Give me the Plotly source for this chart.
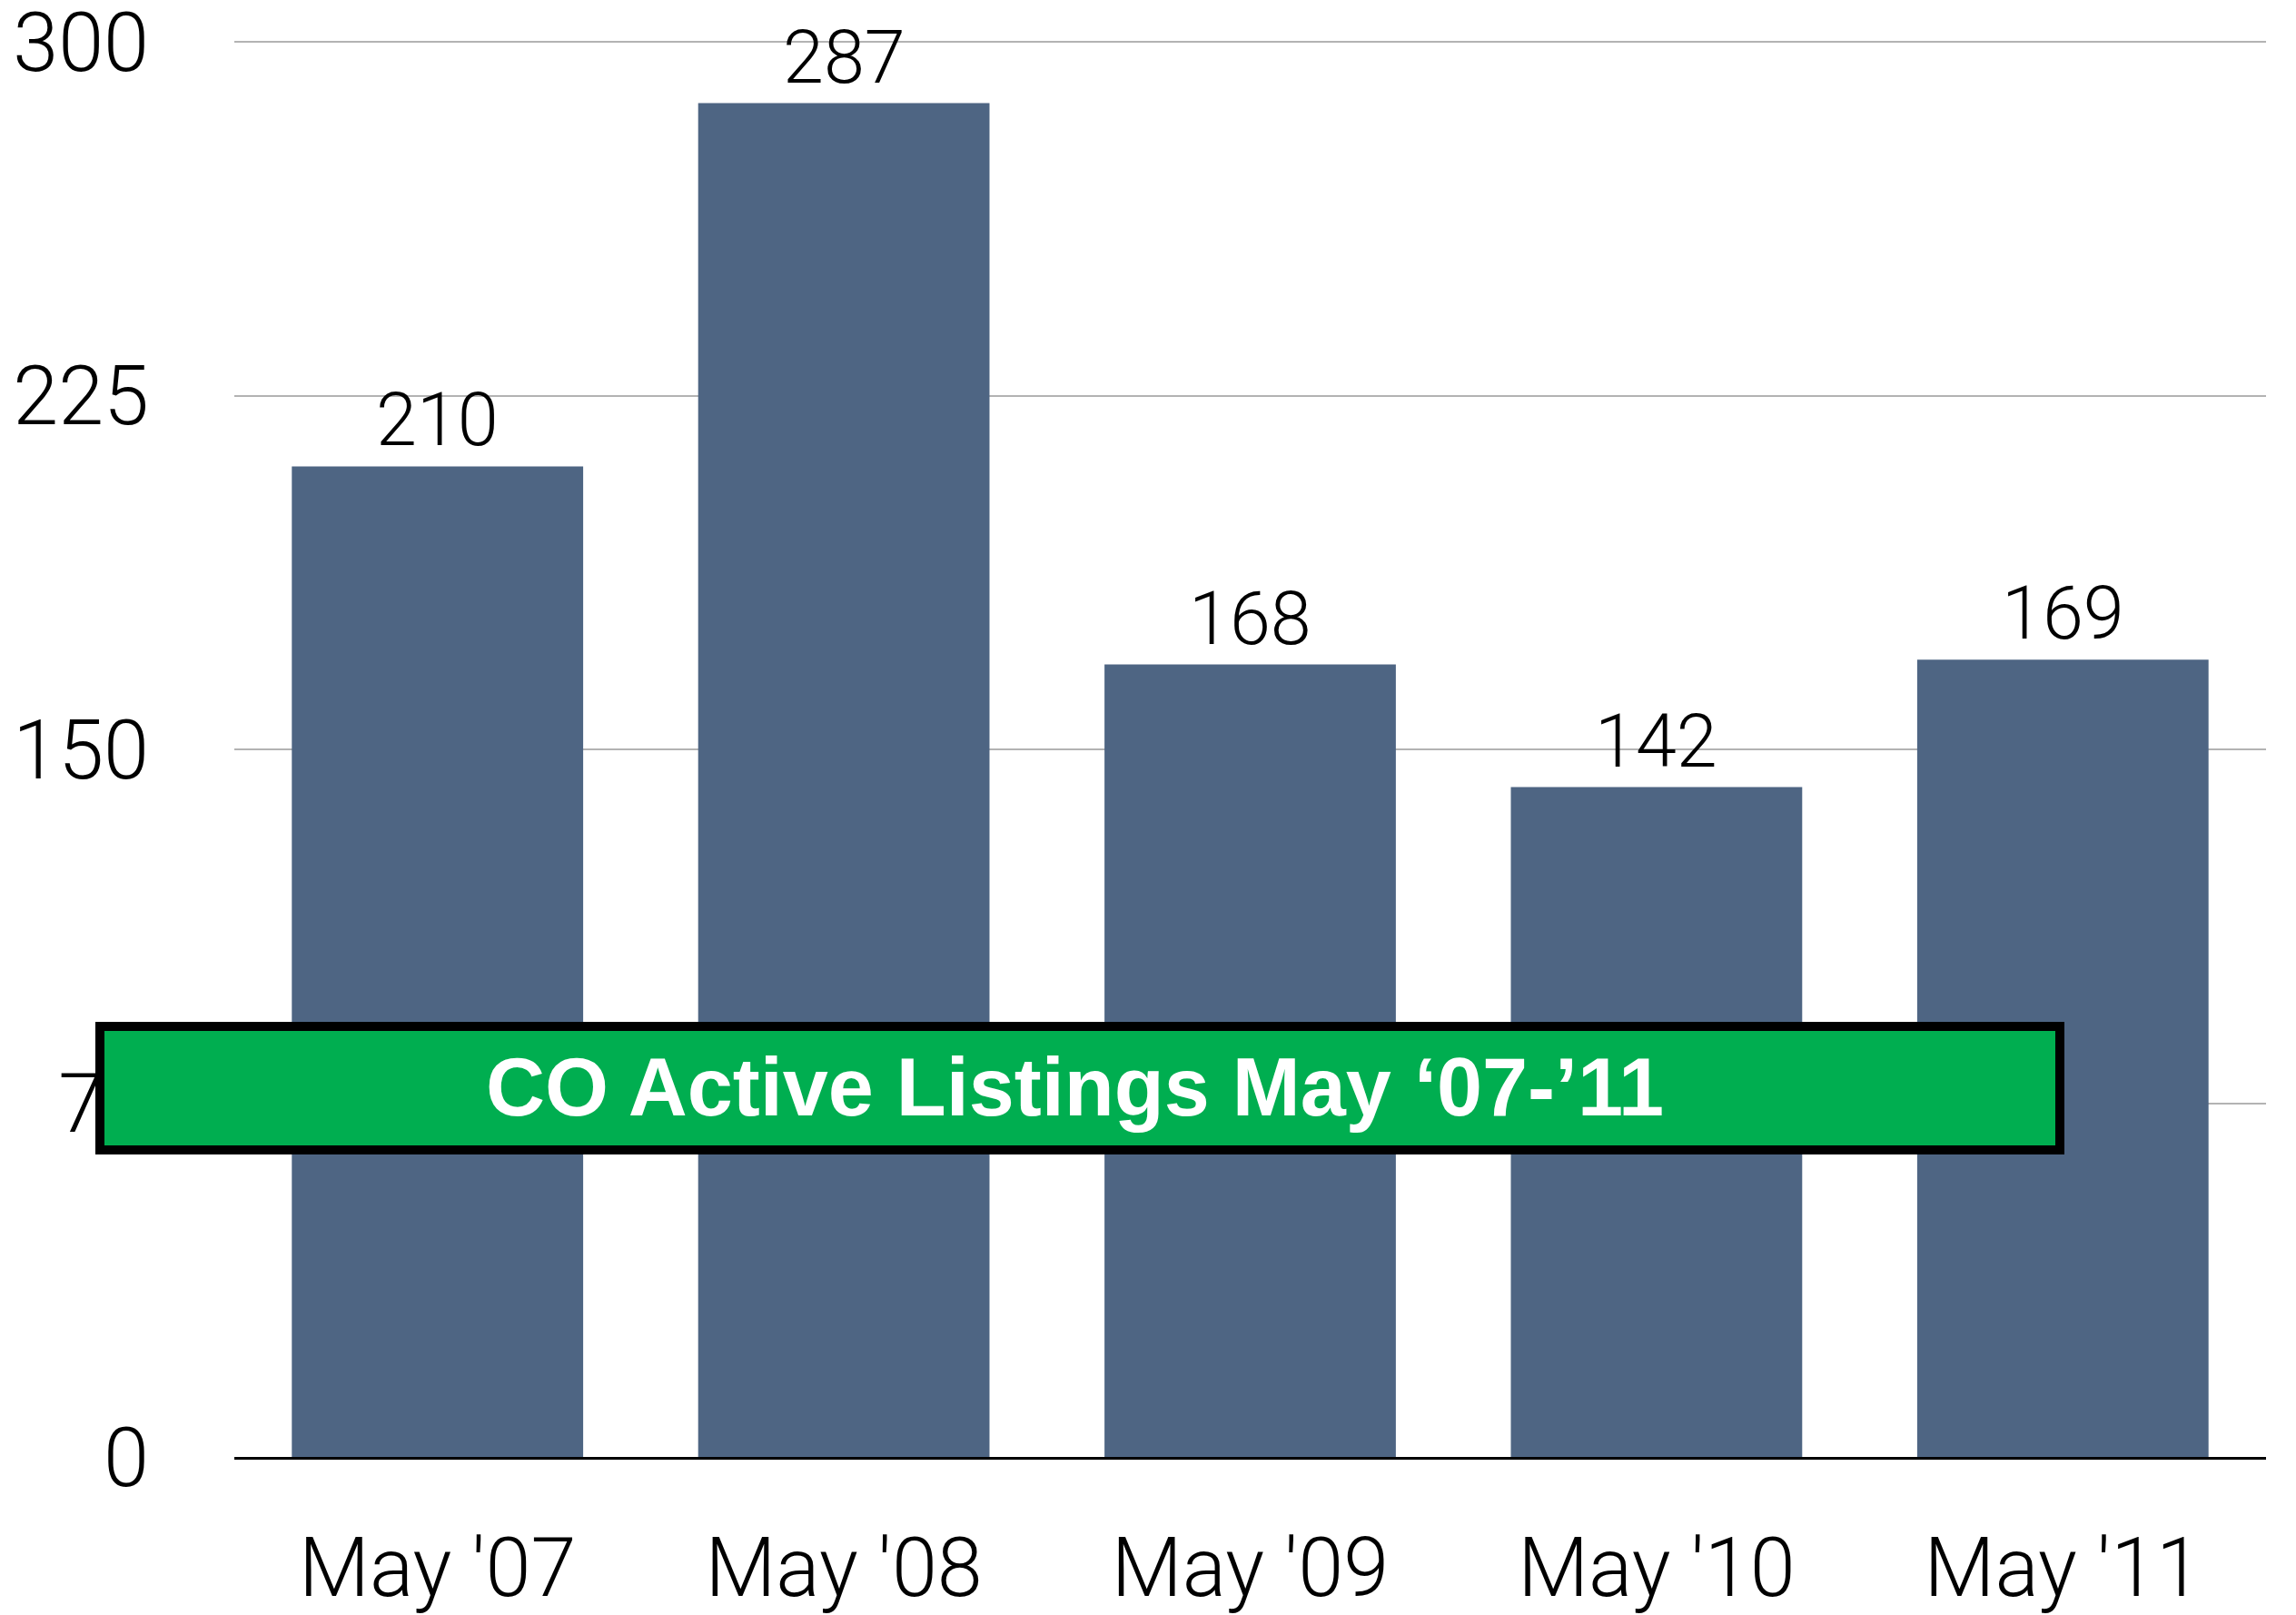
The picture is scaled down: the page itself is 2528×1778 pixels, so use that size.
import plotly.graph_objects as go

categories = ["May '07", "May '08", "May '09", "May '10", "May '11"]
values = [210, 287, 168, 142, 169]
y_ticks = [0, 75, 150, 225, 300]
title_text = "CO Active Listings May \u201807-\u201911"

W, H = 2528, 1770
OFF = 8  # page body margin
L, R, T = 258 - OFF, 2528 - 2495 + OFF, 44 - OFF
B = H - (1604 - OFF)
pw, ph = W - L - R, H - T - B

def px_x(x):
    return (x - OFF - L) / pw

def px_y(y):
    return (H - B - (y - OFF)) / ph

fig = go.Figure()
fig.add_trace(go.Bar(
    x=categories, y=values,
    marker=dict(color="#4e6583", line=dict(width=0)),
    hoverinfo="skip",
))

for c, v in zip(categories, values):
    fig.add_annotation(
        x=c, y=v, text=str(v), showarrow=False,
        xanchor="center", yanchor="bottom", yshift=1,
        font=dict(family="Roboto", size=81, color="#000000", weight=300),
    )

fig.add_shape(
    type="rect", xref="paper", yref="paper",
    x0=px_x(110), x1=px_x(2268), y0=px_y(1266), y1=px_y(1130),
    fillcolor="#00ae50", line=dict(color="#000000", width=10), layer="above",
)
fig.add_annotation(
    xref="paper", yref="paper", x=px_x(1183), y=px_y(1197),
    text="<b>" + title_text + "</b>", showarrow=False,
    xanchor="center", yanchor="middle",
    font=dict(family="Liberation Sans, Arial", size=90, color="#ffffff"),
)

fig.update_layout(
    width=W, height=H,
    margin=dict(l=L, r=R, t=T, b=B, pad=0),
    paper_bgcolor="#ffffff", plot_bgcolor="#ffffff",
    bargap=0.283, showlegend=False,
    xaxis=dict(
        range=[-0.5, 4.5], showgrid=False, zeroline=False, automargin=False,
        showline=True, linecolor="#000000", linewidth=3,
        ticks="", ticklabelstandoff=42, ticklabeloverflow="allow",
        tickfont=dict(family="Roboto", size=90, color="#000000", weight=300),
    ),
    yaxis=dict(
        range=[0, 300.4], tickvals=y_ticks, ticktext=[str(t) for t in y_ticks],
        showgrid=True, gridcolor="#b3b3b3", gridwidth=2, automargin=False,
        zeroline=False, showline=False, ticks="", ticklabelstandoff=93,
        ticklabeloverflow="allow",
        tickfont=dict(family="Roboto", size=90, color="#000000", weight=300),
    ),
)

fig.write_html("out.html")
